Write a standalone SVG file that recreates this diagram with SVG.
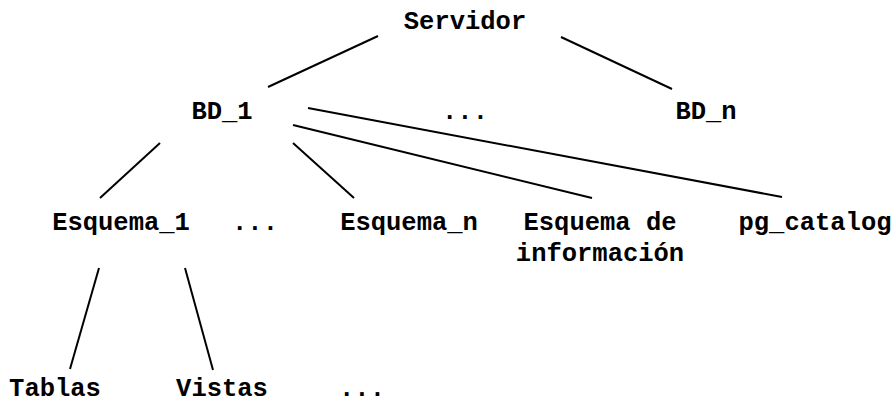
<svg xmlns="http://www.w3.org/2000/svg" width="896" height="405" viewBox="0 0 896 405">
<style>
text{font-family:"Liberation Mono","Courier New",monospace;font-weight:bold;font-size:25.5px;fill:#000;text-anchor:middle}
line{stroke:#000;stroke-width:2}
</style>
<rect width="896" height="405" fill="#fff"/>
<g id="connectors">
<line x1="378" y1="36" x2="268" y2="87"/>
<line x1="561" y1="37" x2="672" y2="89"/>
<line x1="160" y1="143" x2="100" y2="198"/>
<line x1="293" y1="143" x2="354" y2="198"/>
<line x1="293" y1="125" x2="592" y2="198"/>
<line x1="308" y1="108" x2="782" y2="197"/>
<line x1="99" y1="268" x2="70" y2="369"/>
<line x1="185" y1="268" x2="213" y2="370"/>
</g>
<g id="servidor"><text x="465" y="29">Servidor</text></g>
<g id="bd1"><text x="222" y="119">BD_1</text></g>
<g id="bd-dots"><text x="465" y="119">...</text></g>
<g id="bdn"><text x="706" y="119">BD_n</text></g>
<g id="esquema1"><text x="121" y="230">Esquema_1</text></g>
<g id="esq-dots"><text x="255" y="230">...</text></g>
<g id="esqueman"><text x="409" y="230">Esquema_n</text></g>
<g id="info"><text x="600" y="230">Esquema de</text><text x="600" y="261">información</text></g>
<g id="pgcatalog"><text x="815" y="230">pg_catalog</text></g>
<g id="tablas"><text x="55" y="396">Tablas</text></g>
<g id="vistas"><text x="222" y="396">Vistas</text></g>
<g id="obj-dots"><text x="362" y="396">...</text></g>
</svg>
